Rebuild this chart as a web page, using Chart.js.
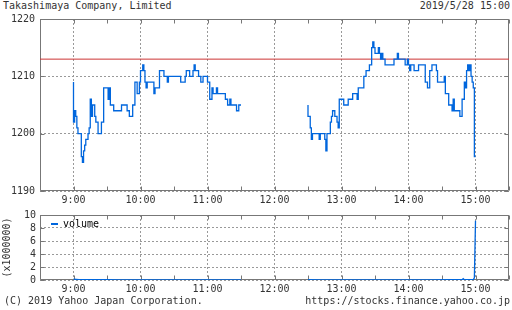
<!DOCTYPE html>
<html>
<head>
<meta charset="utf-8">
<script src="https://cdn.jsdelivr.net/npm/chart.js@4.4.0/dist/chart.umd.min.js"></script>
<style>
  html, body { margin: 0; padding: 0; background: #fff; }
  #wrap { position: relative; width: 512px; height: 310px; font: 10px "DejaVu Sans Mono", monospace; color: #333; overflow: hidden; }
  .txt { position: absolute; white-space: pre; line-height: 12px; }
  canvas { position: absolute; left: 0; }
  #legend { position: absolute; left: 51px; top: 218px; line-height: 12px; color: #000; }
  #legend span { display: inline-block; width: 7px; height: 0; border-top: 2px solid #0066dd; vertical-align: middle; margin-right: 5px; }
</style>
</head>
<body>
<div id="wrap">
  <div class="txt" style="left:3px;top:0px">Takashimaya Company, Limited</div>
  <div class="txt" style="right:2px;top:0px">2019/5/28 15:00</div>
  <canvas id="priceChart" width="512" height="210" style="top:0"></canvas>
  <canvas id="volumeChart" width="512" height="110" style="top:200px"></canvas>
  <div id="legend"><span></span>volume</div>
  <div class="txt" style="left:4px;top:295px">(C) 2019 Yahoo Japan Corporation.</div>
  <div class="txt" style="right:2px;top:295px">https://stocks.finance.yahoo.co.jp</div>
</div>
<script>
// minutes after 9:00 (morning) and after 12:00 (afternoon); price changes
const amMinutes = [0, 1, 2, 3, 4, 7, 8, 9, 10, 11, 13, 14, 15, 16, 17, 19, 20, 22, 25, 27,
  31, 32, 33, 36, 43, 48, 50, 53, 55, 57, 59, 60, 62, 63, 64, 65, 66, 72, 73, 77,
  81, 84, 85, 96, 100, 101, 104, 107, 108, 109, 112, 114, 116, 120, 122, 124, 125, 128, 129, 136,
  138, 140, 141, 146, 148, 149, 150];
const amPrices = [1209, 1202, 1204, 1203, 1201, 1200, 1196, 1195, 1197, 1198, 1199, 1200, 1201, 1206, 1203, 1205, 1203, 1202, 1200, 1202,
  1208, 1206, 1208, 1205, 1204, 1205, 1204, 1203, 1205, 1209, 1207, 1209, 1211, 1212, 1211, 1209, 1208, 1209, 1207, 1208,
  1211, 1210, 1209, 1210, 1209, 1210, 1211, 1210, 1211, 1212, 1211, 1210, 1209, 1210, 1209, 1206, 1208, 1207, 1208, 1207,
  1206, 1205, 1206, 1205, 1204, 1205, 1205];

const pmMinutes = [30, 32, 33, 34, 40, 41, 45, 46, 47, 50, 51, 52, 54, 56, 57, 58, 62, 66, 70, 74,
  75, 80, 82, 85, 87, 88, 89, 90, 93, 94, 95, 96, 97, 99, 107, 110, 111, 117, 119, 120,
  121, 122, 125, 129, 135, 137, 139, 141, 145, 146, 152, 153, 156, 159, 160, 161, 166, 168, 170, 171,
  172, 173, 174, 175, 176, 177, 178, 179, 180];
const pmPrices = [1205, 1203, 1201, 1199, 1200, 1199, 1200, 1199, 1197, 1200, 1202, 1203, 1204, 1203, 1202, 1201, 1206, 1205, 1206, 1207,
  1206, 1208, 1210, 1211, 1212, 1215, 1216, 1215, 1214, 1215, 1214, 1213, 1214, 1213, 1212, 1213, 1214, 1213, 1212, 1213,
  1212, 1211, 1212, 1211, 1212, 1209, 1208, 1211, 1212, 1211, 1209, 1210, 1207, 1205, 1204, 1206, 1204, 1203, 1206, 1209,
  1208, 1211, 1212, 1211, 1212, 1210, 1209, 1208, 1196];

const prevClose = 1213;

// volume (x1000000), minutes after midnight
const amVolMinutes = [540, 545, 550, 560, 570, 580, 590, 600, 615, 630, 645, 660, 675, 690];
const amVolumes = [0.12, 0.06, 0.05, 0.04, 0.04, 0.03, 0.03, 0.03, 0.02, 0.02, 0.02, 0.02, 0.02, 0.03];
const pmVolMinutes = [750, 760, 780, 800, 820, 840, 860, 880, 888, 889, 890, 898, 899, 900];
const pmVolumes = [0.05, 0.03, 0.03, 0.03, 0.02, 0.03, 0.03, 0.04, 0.04, 0.2, 0.04, 0.05, 0.35, 9.1];

const xMin = 510;   // 8:30
const xMax = 930;   // 15:30

let pricePoints = [];
amMinutes.forEach((m, i) => pricePoints.push({ x: 540 + m, y: amPrices[i] }));
pricePoints.push({ x: 705, y: null });
pmMinutes.forEach((m, i) => pricePoints.push({ x: 720 + m, y: pmPrices[i] }));

let volumePoints = [];
amVolMinutes.forEach((m, i) => volumePoints.push({ x: m, y: amVolumes[i] }));
volumePoints.push({ x: 705, y: null });
pmVolMinutes.forEach((m, i) => volumePoints.push({ x: m, y: pmVolumes[i] }));

Chart.defaults.font.family = '"DejaVu Sans Mono", monospace';
Chart.defaults.font.size = 10;
Chart.defaults.color = "#333";

const lineBlue = "#0066dd";
const gridGray = "#999";
const frameGray = "#777";

// plot frame with short inner tick marks on all four sides
const framePlugin = {
  id: "frame",
  beforeDatasetsDraw(chart) {
    const { ctx, chartArea: a, scales } = chart;
    const x0 = Math.round(a.left) + 0.5;
    const x1 = Math.round(a.right) - 0.5;
    const y0 = Math.round(a.top) + 0.5;
    const y1 = Math.round(a.bottom) - 0.5;
    ctx.save();
    ctx.strokeStyle = frameGray;
    ctx.lineWidth = 1;
    ctx.beginPath();
    ctx.rect(x0, y0, x1 - x0, y1 - y0);
    scales.x.ticks.forEach((t) => {
      const px = Math.round(scales.x.getPixelForValue(t.value)) + 0.5;
      ctx.moveTo(px, y0);
      ctx.lineTo(px, y0 + 4);
      ctx.moveTo(px, y1);
      ctx.lineTo(px, y1 - 4);
    });
    scales.y.ticks.forEach((t) => {
      const py = Math.round(scales.y.getPixelForValue(t.value)) + 0.5;
      ctx.moveTo(x0, py);
      ctx.lineTo(x0 + 4, py);
      ctx.moveTo(x1, py);
      ctx.lineTo(x1 - 4, py);
    });
    ctx.stroke();
    ctx.restore();
  },
};

function timeAxis(height) {
  return {
    type: "linear",
    min: xMin,
    max: xMax,
    afterFit: (scale) => { scale.height = height; },
    grid: {
      drawTicks: false,
      color: (c) => (c.tick && c.tick.value % 60 === 0 ? gridGray : "rgba(0,0,0,0)"),
    },
    border: { display: false, dash: [2, 2] },
    ticks: {
      stepSize: 30,
      autoSkip: false,
      maxRotation: 0,
      padding: 3,
      callback: (v) => (v % 60 === 0 ? v / 60 + ":00" : ""),
    },
  };
}

new Chart(document.getElementById("priceChart"), {
  type: "line",
  data: {
    datasets: [
      {
        label: "price",
        data: pricePoints,
        stepped: "after",
        borderColor: lineBlue,
        borderWidth: 1.3,
        pointRadius: 0,
        fill: false,
        spanGaps: false,
      },
      {
        label: "previous close",
        data: [{ x: xMin, y: prevClose }, { x: xMax, y: prevClose }],
        borderColor: "#cc3333",
        borderWidth: 1,
        pointRadius: 0,
        fill: false,
      },
    ],
  },
  options: {
    responsive: false,
    animation: false,
    layout: { padding: { top: 19, right: 2, left: 0, bottom: 0 } },
    plugins: { legend: { display: false }, tooltip: { enabled: false } },
    scales: {
      x: timeAxis(19),
      y: {
        min: 1190,
        max: 1220,
        afterFit: (scale) => { scale.width = 40; },
        grid: { drawTicks: false, color: gridGray },
        border: { display: false, dash: [2, 2] },
        ticks: { stepSize: 10, padding: 5, autoSkip: false, callback: (v) => String(v) },
      },
    },
  },
  plugins: [framePlugin],
});

new Chart(document.getElementById("volumeChart"), {
  type: "line",
  data: {
    datasets: [
      {
        label: "volume",
        data: volumePoints,
        borderColor: lineBlue,
        borderWidth: 1.3,
        pointRadius: 0,
        fill: false,
        spanGaps: false,
      },
    ],
  },
  options: {
    responsive: false,
    animation: false,
    layout: { padding: { top: 15, right: 2, left: 0, bottom: 0 } },
    plugins: { legend: { display: false }, tooltip: { enabled: false } },
    scales: {
      x: timeAxis(30),
      y: {
        min: 0,
        max: 10,
        afterFit: (scale) => { scale.width = 40; },
        grid: { drawTicks: false, color: gridGray },
        border: { display: false, dash: [2, 2] },
        ticks: { stepSize: 2, padding: 4, autoSkip: false, callback: (v) => String(v) },
        title: { display: true, text: "(x1000000)", padding: { top: 1, bottom: 0 } },
      },
    },
  },
  plugins: [framePlugin],
});
</script>
</body>
</html>
